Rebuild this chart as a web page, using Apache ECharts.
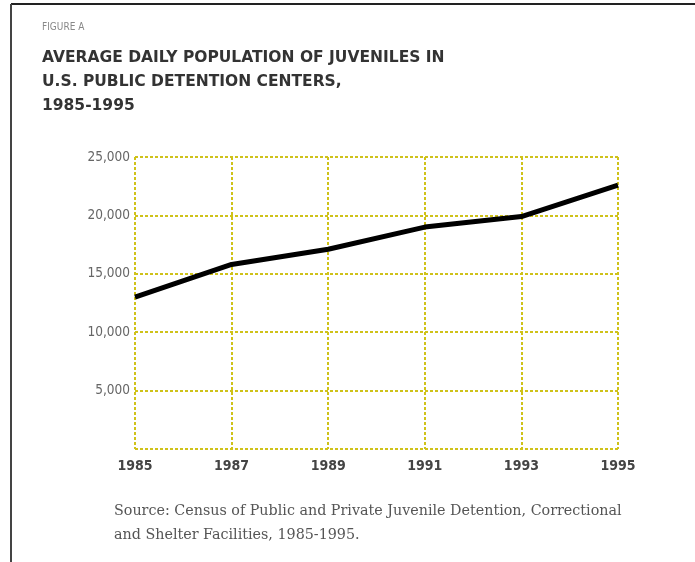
<!DOCTYPE html>
<html>
<head>
<meta charset="utf-8">
<script src="https://cdn.jsdelivr.net/npm/echarts@6/dist/echarts.min.js"></script>
<style>
  html, body { margin: 0; padding: 0; background: #fff; }
  #chart { width: 695px; height: 562px; }
</style>
</head>
<body>
<div id="chart"></div>
<script>
  // values
  var years = ['1985', '1987', '1989', '1991', '1993', '1995'];
  var population = [13000, 15800, 17100, 19000, 19900, 22600];
  var yTicks = [0, 5000, 10000, 15000, 20000, 25000];

  var figureLabel = 'FIGURE A';
  var titleLines = [
    'AVERAGE DAILY POPULATION OF JUVENILES IN',
    'U.S. PUBLIC DETENTION CENTERS,',
    '1985-1995'
  ];
  var sourceLines = [
    'Source: Census of Public and Private Juvenile Detention, Correctional',
    'and Shelter Facilities, 1985-1995.'
  ];

  var gridColor = '#cfc21a';
  var condensed = '"DejaVu Sans Condensed", "Liberation Sans Narrow", sans-serif';

  var myChart = echarts.init(document.getElementById('chart'));

  var graphics = [
    // frame lines top and left
    { type: 'line', shape: { x1: 11, y1: 4, x2: 695, y2: 4 }, style: { stroke: '#222', lineWidth: 2 } },
    { type: 'line', shape: { x1: 11, y1: 4, x2: 11, y2: 562 }, style: { stroke: '#444', lineWidth: 2 } },
    { type: 'text', left: 42, top: 22, style: { text: figureLabel, font: '10px ' + condensed, fill: '#888' } }
  ];
  titleLines.forEach(function (t, i) {
    graphics.push({
      type: 'text', left: 42, top: 50 + i * 24,
      style: { text: t, font: 'bold 15.5px "DejaVu Sans", sans-serif', fill: '#333' }
    });
  });
  sourceLines.forEach(function (t, i) {
    graphics.push({
      type: 'text', left: 114, top: 504 + i * 24,
      style: { text: t, font: '14.3px "DejaVu Serif", serif', fill: '#555' }
    });
  });

  var option = {
    backgroundColor: '#fff',
    animation: false,
    grid: { left: 135, right: 77, top: 157, bottom: 113 },
    xAxis: {
      type: 'category',
      data: years,
      boundaryGap: false,
      axisLine: { show: false },
      axisTick: { show: false },
      axisLabel: { color: '#444', fontFamily: condensed, fontWeight: 'bold', fontSize: 14, margin: 10 },
      splitLine: { show: true, lineStyle: { color: gridColor, width: 2, type: [3, 2] } }
    },
    yAxis: {
      type: 'value',
      min: yTicks[0],
      max: yTicks[yTicks.length - 1],
      interval: yTicks[1] - yTicks[0],
      axisLine: { show: false },
      axisTick: { show: false },
      axisLabel: {
        color: '#666', fontFamily: condensed, fontSize: 13.5, margin: 5,
        formatter: function (v) { return v === 0 ? '' : v.toLocaleString('en-US'); }
      },
      splitLine: { show: true, lineStyle: { color: gridColor, width: 2, type: [3, 2] } }
    },
    series: [
      {
        type: 'line',
        data: population,
        symbol: 'none',
        lineStyle: { color: '#000', width: 5 }
      }
    ],
    graphic: graphics
  };
  myChart.setOption(option);
  window.addEventListener('resize', () => { myChart.resize() });
</script>
</body>
</html>
